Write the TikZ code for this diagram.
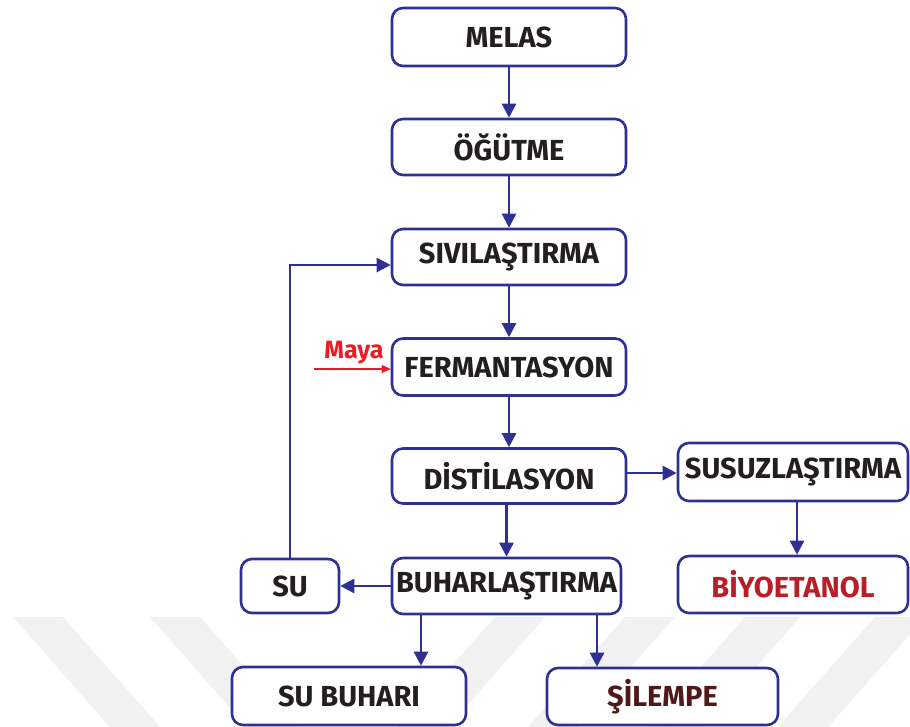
\documentclass[tikz,border=0pt]{standalone}
\usepackage{fontspec}
\setmainfont{Fira Sans}
\usetikzlibrary{arrows.meta,calc}
\definecolor{navy}{RGB}{46,49,146}
\definecolor{txt}{RGB}{35,31,32}
\definecolor{biyored}{RGB}{185,30,40}
\definecolor{brownish}{RGB}{80,25,25}
\definecolor{mayared}{RGB}{237,28,36}
\definecolor{wm}{RGB}{241,241,241}
\tikzset{
  box/.style={draw=navy, line width=2.6pt, rounded corners=11pt, fill=white,
    text=txt, font=\fontsize{29}{29}\selectfont\bfseries, inner sep=0pt},
  arr/.style={draw=navy, line width=2.6pt, -{Triangle[length=14pt,width=14pt]}},
  mayaarr/.style={draw=mayared, line width=1.2pt, -{Triangle[length=9pt,width=8pt]}},
  band/.style={fill=wm, draw=none}
}
\begin{document}
\begin{tikzpicture}[x=1pt,y=-1pt]
\useasboundingbox (0,0) rectangle (910,727);
\fill[white] (0,0) rectangle (910,727);
% faint watermark bands
\fill[band] (13,617) -- (63,617) -- (160,727) -- (110,727) -- cycle;
\fill[band] (150,617) -- (200,617) -- (297,727) -- (247,727) -- cycle;
\fill[band] (495,617) -- (545,617) -- (448,727) -- (398,727) -- cycle;
\fill[band] (625,617) -- (675,617) -- (578,727) -- (528,727) -- cycle;
\fill[band] (745,617) -- (800,617) -- (703,727) -- (648,727) -- cycle;
\fill[band] (875,617) -- (925,617) -- (828,727) -- (778,727) -- cycle;
% nodes
\node[box, minimum width=234pt, minimum height=58pt] (melas) at (509,37) {MELAS};
\node[box, minimum width=234pt, minimum height=56pt] (ogutme) at (509,147) {ÖĞÜTME};
\node[box, minimum width=234pt, minimum height=56pt] (sivi) at (509,257) {SIVILAŞTIRMA};
\node[box, minimum width=234pt, minimum height=57pt] (ferm) at (509,367) {FERMANTASYON};
\node[box, minimum width=234pt, minimum height=55pt] (dist) at (509,476) {DİSTİLASYON};
\node[box, minimum width=229pt, minimum height=56pt] (buhar) at (506.5,586) {BUHARLAŞTIRMA};
\node[box, minimum width=230pt, minimum height=58pt] (susuz) at (793,472) {SUSUZLAŞTIRMA};
\node[box, minimum width=230pt, minimum height=57pt, text=biyored] (biyo) at (793,584.5) {BİYOETANOL};
\node[box, minimum width=98pt, minimum height=54pt] (su) at (290,586) {SU};
\node[box, minimum width=234pt, minimum height=58pt] (subuhar) at (349,696) {SU BUHARI};
\node[box, minimum width=231pt, minimum height=57pt, text=brownish] (silempe) at (662.5,696.5) {ŞİLEMPE};
\node[text=mayared, font=\fontsize{25}{25}\selectfont\bfseries, inner sep=0pt] (maya) at (354,353) {Maya};
% helper coordinates
\coordinate (cbx) at (421,0);
\coordinate (csx) at (597,0);
\coordinate (cbiy) at (797,0);
\coordinate (cdy) at (0,473);
\coordinate (csiy) at (0,265);
\coordinate (mayastart) at (314,369);
% connectors
\draw[arr] (melas) -- (ogutme);
\draw[arr] (ogutme) -- (sivi);
\draw[arr] (sivi) -- (ferm);
\draw[arr] (ferm) -- (dist);
\draw[arr] (dist.south -| buhar.north) -- (buhar.north);
\draw[arr] (dist.east |- cdy) -- (susuz.west |- cdy);
\draw[arr] (susuz.south -| cbiy) -- (biyo.north -| cbiy);
\draw[arr] (buhar.west) -- (su.east);
\draw[arr] (buhar.south -| cbx) -- (subuhar.north -| cbx);
\draw[arr] (buhar.south -| csx) -- (silempe.north -| csx);
\draw[arr] (su.north) |- (sivi.west |- csiy);
\draw[mayaarr] (mayastart) -- (ferm.west |- mayastart);
\end{tikzpicture}
\end{document}
